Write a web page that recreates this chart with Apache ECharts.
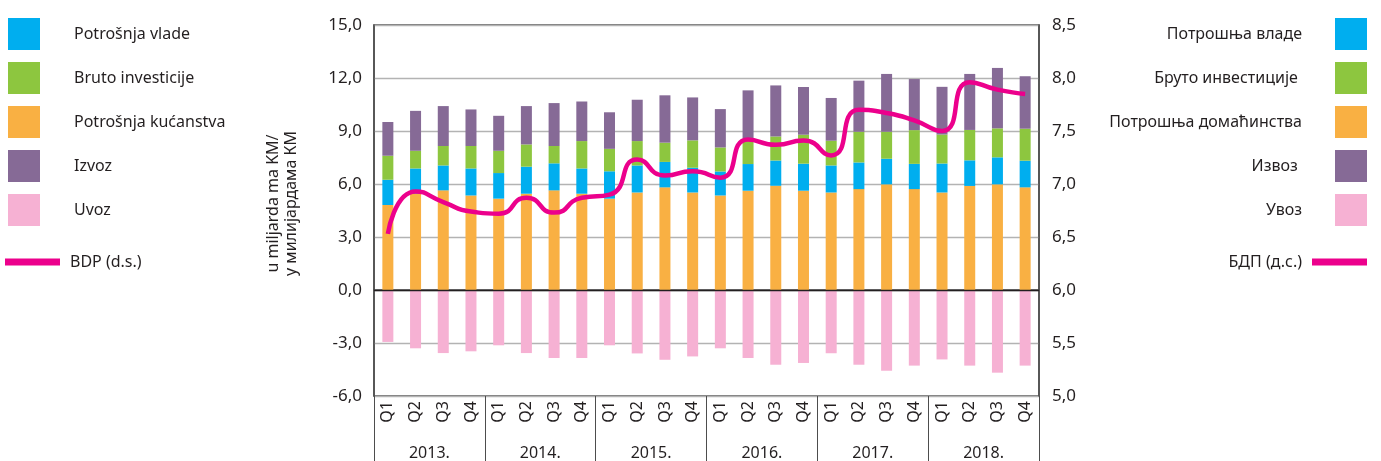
<!DOCTYPE html>
<html>
<head>
<meta charset="utf-8">
<title>BDP po komponentama</title>
<script src="https://cdn.jsdelivr.net/npm/echarts@6/dist/echarts.min.js"></script>
<style>
  html, body { margin: 0; padding: 0; background: #fff; }
  #chart { width: 1381px; height: 461px; }
</style>
</head>
<body>
<div id="chart"></div>
<script>
// kvartali i godine
const quarters = ['Q1', 'Q2', 'Q3', 'Q4', 'Q1', 'Q2', 'Q3', 'Q4', 'Q1', 'Q2', 'Q3', 'Q4',
  'Q1', 'Q2', 'Q3', 'Q4', 'Q1', 'Q2', 'Q3', 'Q4', 'Q1', 'Q2', 'Q3', 'Q4']
const years = ['2013.', '2014.', '2015.', '2016.', '2017.', '2018.']

// u milijardama KM (lijeva os)
const household = [4.81, 5.45, 5.64, 5.35, 5.17, 5.45, 5.64, 5.45, 5.17, 5.52, 5.81, 5.52,
  5.35, 5.62, 5.90, 5.62, 5.52, 5.71, 5.98, 5.71, 5.52, 5.89, 5.98, 5.81]
const government = [1.43, 1.43, 1.41, 1.53, 1.45, 1.53, 1.53, 1.43, 1.55, 1.53, 1.44, 1.40,
  1.36, 1.51, 1.43, 1.53, 1.53, 1.51, 1.45, 1.43, 1.64, 1.45, 1.53, 1.51]
const investment = [1.36, 1.00, 1.10, 1.27, 1.26, 1.26, 0.98, 1.55, 1.27, 1.38, 1.09, 1.55,
  1.36, 1.45, 1.36, 1.64, 1.40, 1.74, 1.53, 1.91, 1.64, 1.72, 1.64, 1.81]
const exports = [1.91, 2.26, 2.26, 2.07, 1.98, 2.17, 2.43, 2.24, 2.07, 2.34, 2.68, 2.43,
  2.17, 2.72, 2.89, 2.70, 2.42, 2.89, 3.27, 2.89, 2.70, 3.17, 3.42, 2.97]
const imports = [-2.94, -3.30, -3.57, -3.47, -3.13, -3.57, -3.85, -3.85, -3.13, -3.59, -3.95, -3.76,
  -3.30, -3.85, -4.23, -4.13, -3.58, -4.23, -4.57, -4.28, -3.93, -4.28, -4.68, -4.28]
// BDP (desna skala)
const gdp = [6.53, 6.93, 6.83, 6.74, 6.72, 6.87, 6.73, 6.87, 6.90, 7.23, 7.08, 7.12,
  7.06, 7.42, 7.37, 7.41, 7.27, 7.70, 7.67, 7.60, 7.50, 7.96, 7.89, 7.85]

const legendOrder = ['Potrošnja vlade', 'Bruto investicije', 'Potrošnja kućanstva', 'Izvoz', 'Uvoz']
const cyrillic = {
  'Potrošnja vlade': 'Потрошња владе',
  'Bruto investicije': 'Бруто инвестиције ',
  'Potrošnja kućanstva': 'Потрошња домаћинства',
  'Izvoz': 'Извоз ',
  'Uvoz': 'Увоз',
  'BDP (d.s.)': 'БДП (д.с.)'
}

const font = 'Noto Sans'
const textColor = '#231f20'
const comma = v => v.toFixed(1).replace('.', ',')

const chart = echarts.init(document.getElementById('chart'))

const barSeries = (name, data, color) => ({
  name: name,
  type: 'bar',
  stack: 'total',
  barWidth: 11,
  data: data,
  itemStyle: { color: color },
  emphasis: { disabled: true }
})

const option = {
  animation: false,
  textStyle: { fontFamily: font, color: textColor },
  legend: [
    {
      data: legendOrder,
      orient: 'vertical',
      left: 3,
      top: 13,
      itemWidth: 32,
      itemHeight: 32,
      itemGap: 12,
      icon: 'rect',
      selectedMode: false,
      textStyle: { fontSize: 16, color: textColor, fontFamily: font, padding: [0, 0, 0, 29] }
    },
    {
      data: ['BDP (d.s.)'],
      left: 0,
      top: 249,
      itemWidth: 55,
      itemHeight: 7,
      icon: 'rect',
      selectedMode: false,
      textStyle: { fontSize: 16, color: textColor, fontFamily: font, padding: [0, 0, 0, 5] }
    },
    {
      data: legendOrder,
      orient: 'vertical',
      right: 9,
      top: 13,
      align: 'right',
      itemWidth: 32,
      itemHeight: 32,
      itemGap: 12,
      icon: 'rect',
      selectedMode: false,
      formatter: name => cyrillic[name],
      textStyle: { fontSize: 16, color: textColor, fontFamily: font, padding: [0, 28, 0, 0] }
    },
    {
      data: ['BDP (d.s.)'],
      right: 9,
      top: 249,
      align: 'right',
      itemWidth: 55,
      itemHeight: 7,
      icon: 'rect',
      selectedMode: false,
      formatter: name => cyrillic[name],
      textStyle: { fontSize: 16, color: textColor, fontFamily: font, padding: [0, 5, 0, 0] }
    }
  ],
  grid: {
    left: 374,
    right: 342,
    top: 25,
    bottom: 65,
    show: true,
    borderColor: '#4d4d4d',
    borderWidth: 1.5
  },
  xAxis: [
    {
      type: 'category',
      position: 'bottom',
      data: quarters,
      axisLine: { show: true, lineStyle: { color: '#4d4d4d', width: 1.5 } },
      axisTick: { show: false },
      axisLabel: { rotate: 90, fontSize: 16, color: textColor, margin: 5, interval: 0 }
    },
    {
      type: 'category',
      position: 'bottom',
      data: years,
      axisLine: { show: false },
      axisTick: { show: true, length: 65, interval: 0, lineStyle: { color: '#4d4d4d', width: 1 } },
      axisLabel: { fontSize: 16, color: textColor, margin: 49, interval: 0 }
    }
  ],
  yAxis: [
    {
      type: 'value',
      min: -6,
      max: 15,
      interval: 3,
      name: 'u miljarda ma KM/\nу милијардама КМ',
      nameLocation: 'middle',
      nameRotate: 90,
      nameGap: 74,
      nameTextStyle: { fontSize: 16, color: textColor, lineHeight: 18, padding: [0, 0, 0, 14] },
      axisLine: { show: true, lineStyle: { color: '#4d4d4d', width: 1.5 } },
      axisTick: { show: false },
      axisLabel: { fontSize: 17, color: textColor, margin: 12, formatter: comma },
      splitLine: { lineStyle: { color: '#b3b3b3', width: 1.3 } }
    },
    {
      type: 'value',
      min: 5,
      max: 8.5,
      interval: 0.5,
      axisLine: { show: true, lineStyle: { color: '#4d4d4d', width: 1.5 } },
      axisTick: { show: false },
      axisLabel: { fontSize: 17, color: textColor, margin: 13, formatter: comma },
      splitLine: { show: false }
    }
  ],
  series: [
    Object.assign(barSeries('Potrošnja kućanstva', household, '#f9b043'), {
      markLine: {
        silent: true,
        symbol: 'none',
        label: { show: false },
        lineStyle: { color: '#231f20', width: 1.3, type: 'solid' },
        data: [{ yAxis: 0 }]
      }
    }),
    barSeries('Potrošnja vlade', government, '#00aeef'),
    barSeries('Bruto investicije', investment, '#8dc63f'),
    barSeries('Izvoz', exports, '#866a96'),
    barSeries('Uvoz', imports, '#f6b1d3'),
    {
      name: 'BDP (d.s.)',
      type: 'line',
      yAxisIndex: 1,
      data: gdp,
      smooth: 0.6,
      symbol: 'none',
      lineStyle: { color: '#ec008c', width: 4.5 },
      itemStyle: { color: '#ec008c' },
      z: 5
    }
  ]
}

chart.setOption(option)
</script>
</body>
</html>
